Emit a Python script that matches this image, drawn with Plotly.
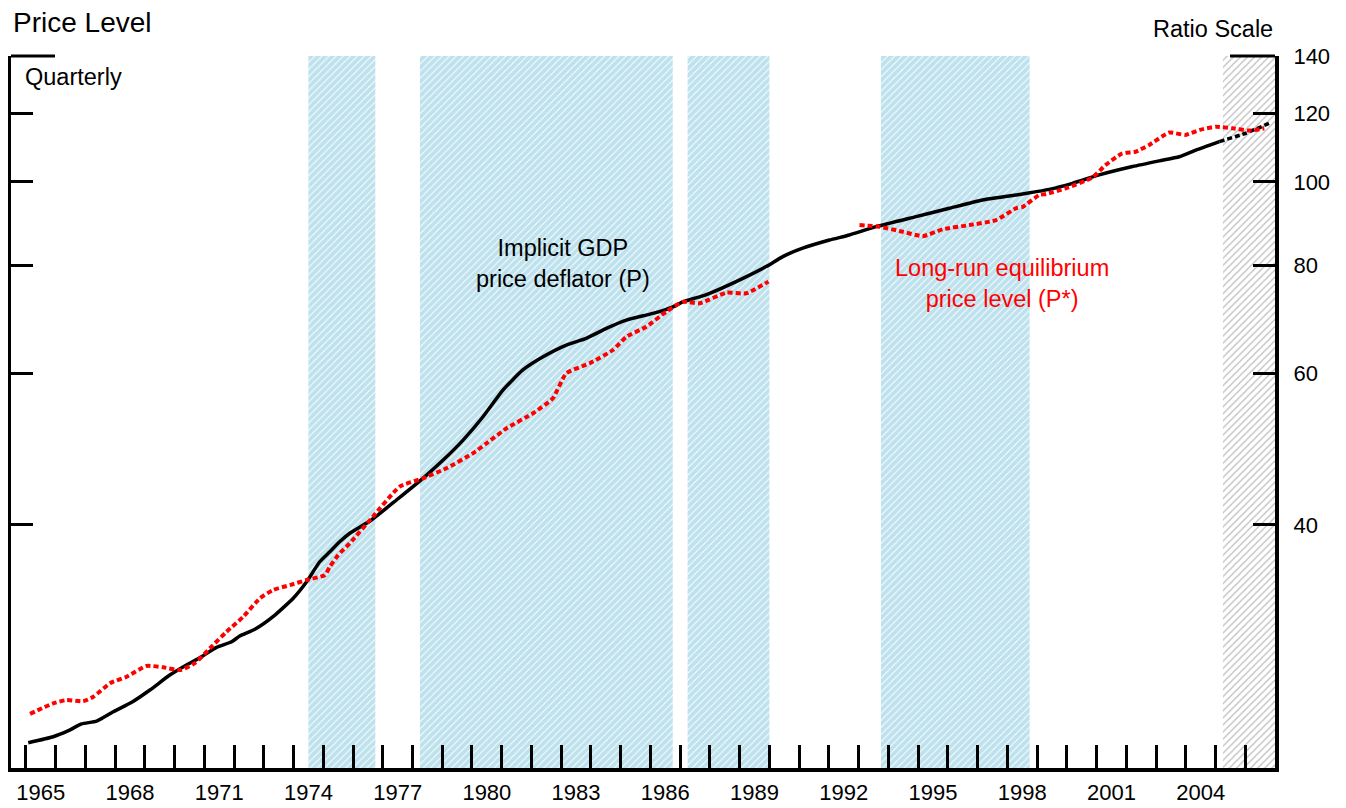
import math
import plotly.graph_objects as go

# ---------------- data ----------------
# Implicit GDP price deflator (P), actual
p_dates = [1965.08, 1965.92, 1966.43, 1966.87, 1967.38, 1967.94, 1968.56, 1969.17, 1969.84,
           1970.40, 1970.91, 1971.41, 1971.92, 1972.19, 1972.70, 1973.31, 1973.99, 1974.44,
           1974.88, 1975.22, 1975.55, 1975.89, 1976.62, 1977.46, 1978.35, 1979.03, 1979.70,
           1980.37, 1981.04, 1981.71, 1982.39, 1983.17, 1983.84, 1984.52, 1985.19, 1986.08,
           1986.76, 1987.09, 1987.65, 1987.99, 1988.88, 1989.89, 1990.45, 1991.12, 1992.02,
           1992.69, 1993.59, 1994.93, 1996.05, 1997.17, 1998.29, 1999.41, 2000.19, 2001.09,
           2002.21, 2003.11, 2003.78, 2004.34, 2005.13]
p_values = [22.36, 22.72, 23.09, 23.51, 23.69, 24.29, 24.91, 25.74, 26.79,
            27.52, 28.14, 28.85, 29.28, 29.73, 30.27, 31.31, 32.89, 34.37,
            36.26, 37.24, 38.25, 39.13, 40.54, 42.76, 45.31, 47.57, 50.18,
            53.41, 57.35, 60.53, 62.70, 64.69, 65.85, 67.63, 69.14, 70.39,
            71.65, 72.61, 73.57, 74.27, 76.63, 79.77, 81.92, 83.78, 85.63,
            86.79, 88.74, 91.15, 93.21, 95.30, 96.57, 98.04, 99.64, 101.9,
            104.2, 105.8, 106.96, 108.9, 111.4]

# P, projection (dashed)
pf_dates = [2005.13, 2006.02, 2006.86]
pf_values = [111.4, 113.9, 117.2]

# Long-run equilibrium price level (P*), first segment
ps1_dates = [1965.14, 1965.92, 1966.37, 1966.93, 1967.27, 1967.83, 1968.39, 1969.06, 1969.62,
             1970.18, 1970.68, 1971.19, 1971.75, 1972.31, 1972.87, 1973.31, 1973.88, 1974.44,
             1975.05, 1975.22, 1975.50, 1975.89, 1976.67, 1977.57, 1978.35, 1979.14, 1980.03,
             1980.48, 1981.16, 1982.05, 1982.72, 1983.17, 1983.96, 1984.74, 1985.19, 1985.86,
             1986.53, 1987.09, 1987.65, 1988.55, 1989.22, 1989.97]
ps1_values = [24.15, 24.84, 25.06, 24.98, 25.28, 26.21, 26.67, 27.45, 27.35,
              27.15, 27.65, 28.78, 30.08, 31.31, 32.89, 33.62, 34.07, 34.53,
              34.99, 35.78, 36.91, 38.09, 40.90, 44.32, 45.31, 46.54, 48.44,
              49.73, 51.78, 53.91, 56.11, 59.98, 61.62, 63.84, 66.13, 67.93,
              70.71, 72.60, 72.31, 74.39, 74.27, 76.63]

# P*, second segment
ps2_dates = [1993.03, 1993.70, 1994.48, 1995.16, 1995.83, 1996.73, 1997.62, 1998.29, 1998.52,
             1999.07, 1999.30, 1999.96, 2000.86, 2001.30, 2001.86, 2002.31, 2002.77, 2003.44,
             2003.99, 2004.46, 2005.02, 2005.58, 2006.14, 2006.64]
ps2_values = [89.12, 88.74, 87.55, 86.53, 88.11, 89.12, 90.32, 93.21, 93.58,
              96.57, 96.82, 98.31, 101.2, 104.6, 107.9, 108.4, 110.4, 114.1,
              113.4, 114.9, 115.9, 115.4, 114.7, 115.4]

# shaded periods (start, end)
band_starts = [1974.50, 1978.25, 1987.25, 1993.75]
band_ends = [1976.75, 1986.75, 1990.00, 1998.75]
proj_start = 2005.25
proj_end = 2007.00

# axes
x_min, x_max = 1964.5, 2007.0
y_min, y_max = 20.9, 140.0
y_ticks = [40, 60, 80, 100, 120, 140]
year_labels = list(range(1965, 2005, 3))

FONT = "Arial, Liberation Sans, sans-serif"

fig = go.Figure()

# shaded bands as bars on the log axis
fig.add_trace(go.Bar(
    x=[(s + e) / 2 for s, e in zip(band_starts, band_ends)],
    width=[e - s for s, e in zip(band_starts, band_ends)],
    y=[y_max - y_min] * len(band_starts),
    base=[y_min] * len(band_starts),
    marker=dict(color="#bde1ed", line=dict(width=0),
                pattern=dict(shape="/", fgcolor="white", bgcolor="#bde1ed",
                             size=5, solidity=0.2, fillmode="replace")),
    hoverinfo="skip", showlegend=False,
))
fig.add_trace(go.Bar(
    x=[(proj_start + proj_end) / 2], width=[proj_end - proj_start],
    y=[y_max - y_min], base=[y_min],
    marker=dict(color="white", line=dict(width=0),
                pattern=dict(shape="/", fgcolor="#bdbdbd", bgcolor="white",
                             size=5, solidity=0.25, fillmode="replace")),
    hoverinfo="skip", showlegend=False,
))

line_shape = dict(shape="spline", smoothing=0.5)
fig.add_trace(go.Scatter(x=p_dates, y=p_values, mode="lines",
                         line=dict(color="black", width=3.5, **line_shape),
                         showlegend=False, hoverinfo="skip"))
fig.add_trace(go.Scatter(x=pf_dates, y=pf_values, mode="lines",
                         line=dict(color="black", width=3.5, dash="5px,3px", **line_shape),
                         showlegend=False, hoverinfo="skip"))
for d, v in ((ps1_dates, ps1_values), (ps2_dates, ps2_values)):
    fig.add_trace(go.Scatter(x=d, y=v, mode="lines",
                             line=dict(color="#ff0000", width=4, dash="5px,3px", **line_shape),
                             showlegend=False, hoverinfo="skip"))

fig.update_layout(
    width=1338, height=800,
    margin=dict(l=3, r=71, t=48, b=40, autoexpand=False),
    paper_bgcolor="white", plot_bgcolor="white",
    barmode="overlay",
    font=dict(family=FONT, size=22, color="black"),
    xaxis=dict(
        range=[x_min, x_max], showgrid=False, zeroline=False, automargin=False,
        showline=True, linewidth=4, linecolor="black",
        tickmode="array", tickvals=[y + 0.5 for y in year_labels],
        ticktext=[str(y) for y in year_labels],
        ticks="inside", ticklen=1, tickcolor="rgba(0,0,0,0)",
        tickfont=dict(size=22), ticklabelstandoff=2,
        minor=dict(ticks="inside", ticklen=23, tickwidth=3, tickcolor="black",
                   tickmode="linear", tick0=1965, dtick=1, showgrid=False),
    ),
    yaxis=dict(
        type="log", range=[math.log10(y_min), math.log10(y_max)], automargin=False,
        side="right", showgrid=False, zeroline=False,
        showline=True, linewidth=4, linecolor="black", mirror="ticks",
        tickmode="array", tickvals=y_ticks, ticktext=[str(t) for t in y_ticks],
        ticks="inside", ticklen=22, tickwidth=3, tickcolor="black",
        tickfont=dict(size=22), ticklabelstandoff=10,
    ),
    shapes=[
        dict(type="line", xref="paper", yref="paper", x0=0, x1=44 / 1264, y0=1, y1=1,
             line=dict(color="black", width=3)),
        dict(type="line", xref="paper", yref="paper", x0=1 - 45 / 1264, x1=1, y0=1, y1=1,
             line=dict(color="black", width=3)),
    ],
    annotations=[
        dict(text="Price Level", xref="paper", yref="paper", x=0, y=1.0474,
             xanchor="left", yanchor="middle", showarrow=False, font=dict(size=28)),
        dict(text="Ratio Scale", xref="paper", yref="paper", x=1.0, y=1.038,
             xanchor="right", yanchor="middle", showarrow=False, font=dict(size=23.5)),
        dict(text="Quarterly", xref="paper", yref="paper", x=0.0093, y=0.970,
             xanchor="left", yanchor="middle", showarrow=False, font=dict(size=23.5)),
        dict(text="Implicit GDP<br>price deflator (P)", xref="paper", yref="paper",
             x=0.437, y=0.709, xanchor="center", yanchor="middle", showarrow=False,
             align="center", font=dict(size=23.5)),
        dict(text="Long-run equilibrium<br>price level (P*)", xref="paper", yref="paper",
             x=0.784, y=0.681, xanchor="center", yanchor="middle", showarrow=False,
             align="center", font=dict(size=23.5, color="#ff0000")),
    ],
)

fig.write_html("out.html")
